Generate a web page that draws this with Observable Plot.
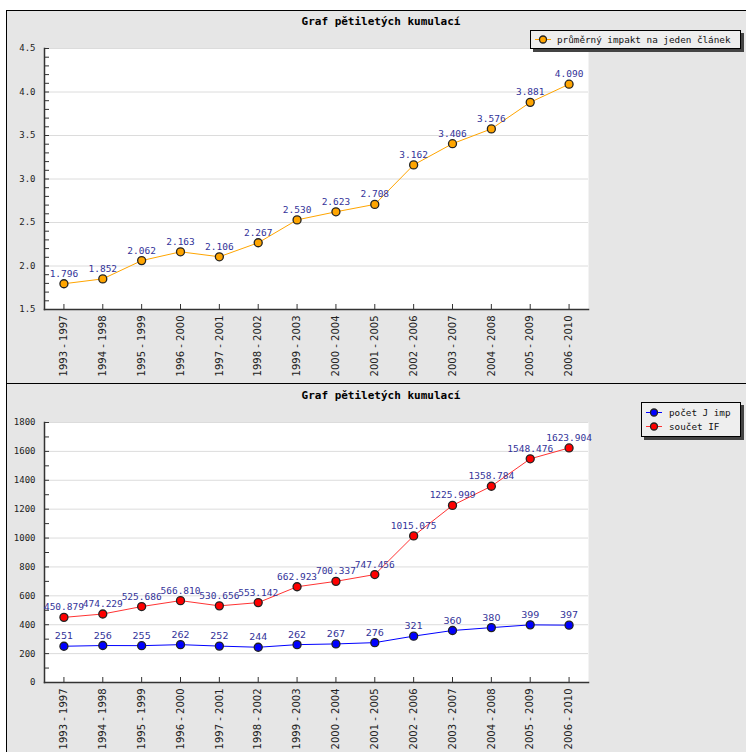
<!DOCTYPE html>
<html><head><meta charset="utf-8">
<script src="https://cdn.jsdelivr.net/npm/d3@7"></script>
<script src="https://cdn.jsdelivr.net/npm/@observablehq/plot@0.6"></script>
<style>
body{margin:0;background:#fff;width:746px;height:752px;overflow:hidden;position:relative;font-family:"DejaVu Sans Mono",monospace;}
.panel{position:absolute;left:6px;width:760px;background:#e6e6e6;border:1px solid #000;box-sizing:border-box;}
.panel svg{position:absolute;left:0;top:0;}
.title{position:absolute;left:0;width:748px;text-align:center;font-weight:bold;font-size:11px;line-height:12px;color:#000;}
.legend{position:absolute;background:#eeeeee;border:1px solid #000;box-shadow:3px 3px 0 #444;font-size:9.3px;color:#111;box-sizing:border-box;}
.legend .row{position:absolute;left:0;height:13px;line-height:13px;white-space:nowrap;}
.legend .row svg{position:absolute;left:3px;top:0;}
.legend .row span{position:absolute;}
</style>
</head><body>
<div class="panel" id="p1" style="top:10px;height:374px;">
  <div class="title" style="top:5px;">Graf pětiletých kumulací</div>
  <div class="legend" style="left:523px;top:19px;width:211px;height:19px;">
    <div class="row" style="top:2px;width:209px;"><svg width="18" height="13"><line x1="1" x2="17" y1="6.5" y2="6.5" stroke="#ffa500"/><circle cx="9" cy="6.5" r="3.5" fill="#ffa500" stroke="#222" stroke-width="1.3"/></svg><span style="left:26px;">průměrný impakt na jeden článek</span></div>
  </div>
</div>
<div class="panel" id="p2" style="top:383px;height:380px;">
  <div class="title" style="top:6px;">Graf pětiletých kumulací</div>
  <div class="legend" style="left:634px;top:18px;width:100px;height:35px;">
    <div class="row" style="top:3px;width:98px;"><svg width="18" height="13"><line x1="1" x2="17" y1="6.5" y2="6.5" stroke="#0000ff"/><circle cx="9" cy="6.5" r="3.5" fill="#0000ff" stroke="#222" stroke-width="1.3"/></svg><span style="left:27px;">počet J imp</span></div>
    <div class="row" style="top:17px;width:98px;"><svg width="18" height="13"><line x1="1" x2="17" y1="6.5" y2="6.5" stroke="#ff3333"/><circle cx="9" cy="6.5" r="3.5" fill="#ff0000" stroke="#222" stroke-width="1.3"/></svg><span style="left:27px;">součet IF</span></div>
  </div>
</div>
<script>
const periods = ["1993 - 1997","1994 - 1998","1995 - 1999","1996 - 2000","1997 - 2001","1998 - 2002","1999 - 2003","2000 - 2004","2001 - 2005","2002 - 2006","2003 - 2007","2004 - 2008","2005 - 2009","2006 - 2010"];
const avgImpact = [1.796,1.852,2.062,2.163,2.106,2.267,2.530,2.623,2.708,3.162,3.406,3.576,3.881,4.090];
const countJ = [251,256,255,262,252,244,262,267,276,321,360,380,399,397];
const sumIF = [450.879,474.229,525.686,566.810,530.656,553.142,662.923,700.337,747.456,1015.075,1225.999,1358.784,1548.476,1623.904];
const topTicks = [1.5,2.0,2.5,3.0,3.5,4.0,4.5];
const bottomTicks = [0,200,400,600,800,1000,1200,1400,1600,1800];

const MONO = "DejaVu Sans Mono";
const SANS = "DejaVu Sans";
const LABEL = "#333399";

function range(a, b, s) { const r = []; for (let v = a; v <= b + 1e-9; v += s) r.push(+v.toFixed(4)); return r; }

function makeChart({series, yDomain, major, minor, height, mt, mb, yFmt}) {
  const marks = [
    Plot.frame({fill: "white"}),
    Plot.gridY(major, {stroke: "#dcdcdc", strokeOpacity: 1}),
    Plot.axisY(minor, {tickSize: -5, tickFormat: () => "", stroke: "#333", label: null}),
    Plot.axisY(major, {tickSize: 0, tickPadding: 9, tickFormat: yFmt, fontFamily: MONO, fontSize: 9, fill: "#222", label: null}),
    Plot.axisX({tickSize: -5, tickFormat: () => "", stroke: "#333", label: null}),
    Plot.axisX({tickSize: 0, tickPadding: 6, tickRotate: -90, fontFamily: SANS, fontSize: 10, fill: "#222", label: null}),
    Plot.frame({anchor: "left", stroke: "#333", strokeWidth: 1.5}),
    Plot.frame({anchor: "bottom", stroke: "#333", strokeWidth: 1.5})
  ];
  for (const s of series) {
    const data = periods.map((p, i) => ({p, v: s.values[i]}));
    marks.push(Plot.line(data, {x: "p", y: "v", stroke: s.line, strokeWidth: 1}));
    marks.push(Plot.dot(data, {x: "p", y: "v", r: 4, fill: s.fill, stroke: "#222", strokeWidth: 1.3}));
    marks.push(Plot.text(data, {x: "p", y: "v", text: d => s.fmt(d.v), dy: -10, fill: LABEL, fontFamily: s.font, fontSize: s.size}));
  }
  return Plot.plot({
    width: 739, height,
    marginLeft: 37, marginRight: 158, marginTop: mt, marginBottom: mb,
    x: {type: "point", domain: periods, padding: 0.5, round: false, label: null},
    y: {domain: yDomain, label: null},
    style: {background: "transparent", fontFamily: MONO, overflow: "visible"},
    marks
  });
}

const c1 = makeChart({
  series: [{values: avgImpact, line: "#ffa500", fill: "#ffa500", fmt: d3.format(".3f"), font: MONO, size: 9.5}],
  yDomain: [1.5, 4.5], major: topTicks, minor: range(1.5, 4.5, 0.1),
  height: 372, mt: 37, mb: 74, yFmt: d3.format(".1f")
});
document.getElementById("p1").prepend(c1);

const c2 = makeChart({
  series: [
    {values: sumIF, line: "#ff3333", fill: "#ff0000", fmt: d3.format(".3f"), font: MONO, size: 9.5},
    {values: countJ, line: "#0000ff", fill: "#0000ff", fmt: d3.format("d"), font: SANS, size: 9.5}
  ],
  yDomain: [0, 1800], major: bottomTicks, minor: range(0, 1800, 100),
  height: 368, mt: 38, mb: 70, yFmt: d3.format("d")
});
document.getElementById("p2").prepend(c2);
</script>
</body></html>
